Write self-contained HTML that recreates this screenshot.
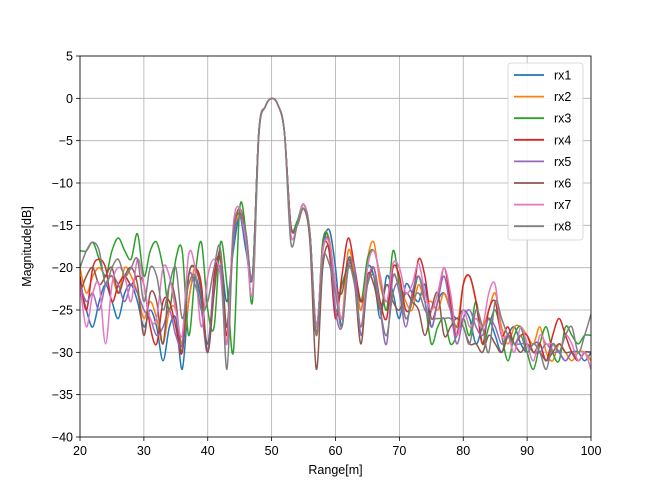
<!DOCTYPE html>
<html><head><meta charset="utf-8"><style>
body{margin:0;background:#fff;width:650px;height:489px;overflow:hidden}
svg{font-family:"Liberation Sans","DejaVu Sans",sans-serif}
</style></head><body>
<svg id="c" width="650" height="489"></svg>
<script>
const xStart = 20;
const xTicks = [20,30,40,50,60,70,80,90,100];
const yTicks = [5,0,-5,-10,-15,-20,-25,-30,-35,-40];
const seriesNames = ["rx1","rx2","rx3","rx4","rx5","rx6","rx7","rx8"];
const rx1 = [-22,-25,-27,-24,-22,-24,-26,-23,-22,-24,-27,-25,-27,-31,-27,-26,-32,-24,-21,-24,-29,-22,-19,-24,-18,-14,-18,-21,-4,-1,0,-0.8,-4,-15,-15,-13,-16,-27,-18,-15.5,-20,-27,-19,-21,-25,-20,-21,-26,-21,-23,-26,-22,-23,-24,-22,-27,-24,-23,-25,-26,-25,-26,-29,-27,-26,-28,-30,-28,-27,-29,-30,-29,-29,-31,-29,-30,-31,-30,-30,-31,-30];
const rx2 = [-20,-23,-21,-20,-21,-21,-23,-20,-21,-23,-26,-24,-26,-29,-25,-25,-29,-24,-20,-23,-30,-22,-19,-29,-17,-13.5,-17,-21,-4,-1,0,-0.8,-4,-15,-15,-13,-16,-28,-17,-16.5,-22,-26,-18,-21,-25,-19,-17,-22,-24,-21,-22,-24,-25,-22,-24,-24,-25,-23,-25,-27,-22,-21,-24,-27,-25,-23,-27,-29,-27,-27,-28,-29,-27,-30,-31,-29,-30,-31,-30,-30,-31];
const rx3 = [-18,-18,-17,-19,-21,-18,-16.5,-18,-19,-16,-21,-18,-17,-20,-25,-19,-18,-28,-21,-17,-25,-27,-17,-22,-30,-13,-16,-24,-4.5,-1,0,-0.8,-4,-15,-14.5,-12.5,-16,-28,-17,-17,-25,-22,-20,-21,-24,-19,-18,-21,-25,-18,-22,-26,-24,-21,-24,-29,-27,-26,-29,-28,-26,-28,-24,-29,-27,-25,-28,-31,-28,-27,-30,-32,-29,-27,-30,-31,-27,-28,-29,-28,-28];
const rx4 = [-21,-25,-20,-19,-20,-24,-22,-21,-22,-21,-22,-27,-29,-24,-24,-27,-30,-21,-20,-22,-30,-21,-19,-28,-16,-13.5,-17,-21,-4,-1,0,-0.8,-4,-15,-15,-12.5,-16,-28,-18,-18,-26,-21,-16.5,-20,-24,-22,-20,-24,-26,-20,-21,-25,-24,-19,-21,-26,-24,-20,-24,-28,-22,-21,-24,-29,-25,-24,-28,-27,-29,-28,-28,-30,-29,-31,-28,-26,-28,-30,-31,-30,-30];
const rx5 = [-22,-24,-23,-25,-22,-21,-22,-24,-22,-23,-25,-26,-28,-27,-25,-28,-29,-21,-22,-25,-30,-22,-20,-27,-17,-14,-17,-21,-4,-1,0,-0.8,-4,-15,-15,-12.5,-16,-27,-18,-17,-25,-27,-20,-20,-28,-22,-20,-25,-29,-21,-23,-27,-23,-21,-24,-27,-24,-21,-25,-29,-26,-25,-27,-28,-26,-27,-29,-28,-29,-29,-29,-30,-30,-29,-30,-30,-31,-30,-31,-30,-30];
const rx6 = [-23,-21,-20,-22,-21,-20,-23,-21,-20,-22,-28,-23,-24,-29,-22,-24,-30,-21,-20,-23,-30,-23,-18,-27,-16,-13,-16,-21,-4,-1,0,-0.8,-4,-15,-15,-13,-17,-32,-20,-17.5,-22,-23,-19,-22,-29,-21,-22,-25,-22,-24,-25,-23,-24,-25,-28,-25,-23,-28,-27,-26,-27,-29,-29,-30,-28,-29,-30,-28,-29,-30,-29,-30,-30,-31,-30,-29,-30,-30,-31,-30,-30];
const rx7 = [-22,-27,-23,-22,-29,-22,-20,-21,-24,-19,-22,-26,-26,-20,-21,-25,-28,-18.5,-20,-27,-21,-19,-21,-29,-15,-13,-17,-23,-4,-1,0,-0.8,-4,-16,-15,-12.5,-16,-27,-18,-17,-22,-26,-20,-22,-27,-20,-18,-21,-24,-19.5,-20,-23,-22,-19.5,-23,-25,-23,-20,-23,-28,-25,-27,-26,-27,-23,-22,-28,-28,-30,-27,-29,-31,-28,-29,-29,-30,-28,-29,-31,-30,-32];
const rx8 = [-20,-18,-17,-18,-22,-20,-19,-21,-20,-19,-24,-20,-21,-25,-22,-20,-26,-22,-21,-25,-24,-20,-18,-32,-16,-13.5,-16,-21,-4,-1,0,-0.8,-4,-17,-15,-13,-16,-28,-19,-19.5,-23,-27,-20,-22,-27,-22,-21,-25,-28,-23,-22,-26,-24,-23,-25,-26,-26,-26,-26,-27,-27,-29,-25,-27,-30,-24,-26,-28,-29,-28,-30,-29,-30,-32,-29,-30,-28,-27,-30,-28,-25.5];
const allSeries = [rx1,rx2,rx3,rx4,rx5,rx6,rx7,rx8];
const colors = ["#1f77b4","#ff7f0e","#2ca02c","#d62728","#9467bd","#8c564b","#e377c2","#7f7f7f"];

const L=80,R=591,T=56,B=437;
const xs = v => L + (v-20)/(100-20)*(R-L);
const ys = v => T + (5-v)/(5-(-40))*(B-T);
const NS="http://www.w3.org/2000/svg";
const svg=document.getElementById('c');
function mk(tag,attrs,parent){const e=document.createElementNS(NS,tag);for(const k in attrs)e.setAttribute(k,attrs[k]);(parent||svg).appendChild(e);return e;}

const grid=mk('g',{});


xTicks.forEach(t=>{
  const l=mk('line',{x1:xs(t),x2:xs(t),y1:T,y2:B,stroke:'#b0b0b0','stroke-width':0.8},grid);
  
  
  const tk=mk('line',{x1:xs(t),x2:xs(t),y1:B,y2:B+4,stroke:'#000','stroke-width':0.8});
  
  
  const tx=mk('text',{x:xs(t),y:B+18,'text-anchor':'middle','font-size':12.5,fill:'#000'});
  tx.textContent=t;
  
  
});
yTicks.forEach(t=>{
  const l=mk('line',{x1:L,x2:R,y1:ys(t),y2:ys(t),stroke:'#b0b0b0','stroke-width':0.8},grid);
  
  
  const tk=mk('line',{x1:L-4,x2:L,y1:ys(t),y2:ys(t),stroke:'#000','stroke-width':0.8});
  
  
  const tx=mk('text',{x:L-7,y:ys(t)+4.5,'text-anchor':'end','font-size':12.5,fill:'#000'});
  tx.textContent=String(t).replace('-','\u2212');
  
  
});

const clip=mk('clipPath',{id:'cp'});
mk('rect',{x:L,y:T,width:R-L,height:B-T},clip);
allSeries.forEach((arr,si)=>{
  const pts=arr.map((v,i)=>[xs(xStart+i),ys(v)]);
  let d='M'+pts[0][0]+','+pts[0][1];
  for(let i=0;i<pts.length-1;i++){
    const p0=pts[Math.max(0,i-1)],p1=pts[i],p2=pts[i+1],p3=pts[Math.min(pts.length-1,i+2)];
    const c1=[p1[0]+(p2[0]-p0[0])/6,p1[1]+(p2[1]-p0[1])/6];
    const c2=[p2[0]-(p3[0]-p1[0])/6,p2[1]-(p3[1]-p1[1])/6];
    d+=` C${c1[0]},${c1[1]} ${c2[0]},${c2[1]} ${p2[0]},${p2[1]}`;
  }
  const p=mk('path',{d:d,fill:'none',stroke:colors[si],'stroke-width':1.5,'clip-path':'url(#cp)'});
  
  
});

const frame=mk('rect',{x:L,y:T,width:R-L,height:B-T,fill:'none',stroke:'#000','stroke-width':0.8});



const xl=mk('text',{x:(L+R)/2,y:474,'text-anchor':'middle','font-size':12.5});
xl.textContent='Range[m]';


const yl=mk('text',{x:0,y:0,'text-anchor':'middle','font-size':12.5,transform:`translate(31,${(T+B)/2}) rotate(-90)`});
yl.textContent='Magnitude[dB]';



const lg=mk('g',{});


mk('rect',{x:508,y:63,width:75,height:177,rx:3,fill:'#fff','fill-opacity':0.85,stroke:'#d0d0d0','stroke-width':0.8},lg);
seriesNames.forEach((n,i)=>{
  const y=75+i*21.6;
  const ln=mk('line',{x1:514,x2:544,y1:y,y2:y,stroke:colors[i],'stroke-width':1.8},lg);
  
  
  const t=mk('text',{x:554,y:y+4.5,'font-size':12.5},lg);
  t.textContent=n;
  
  
});
</script>
</body></html>
